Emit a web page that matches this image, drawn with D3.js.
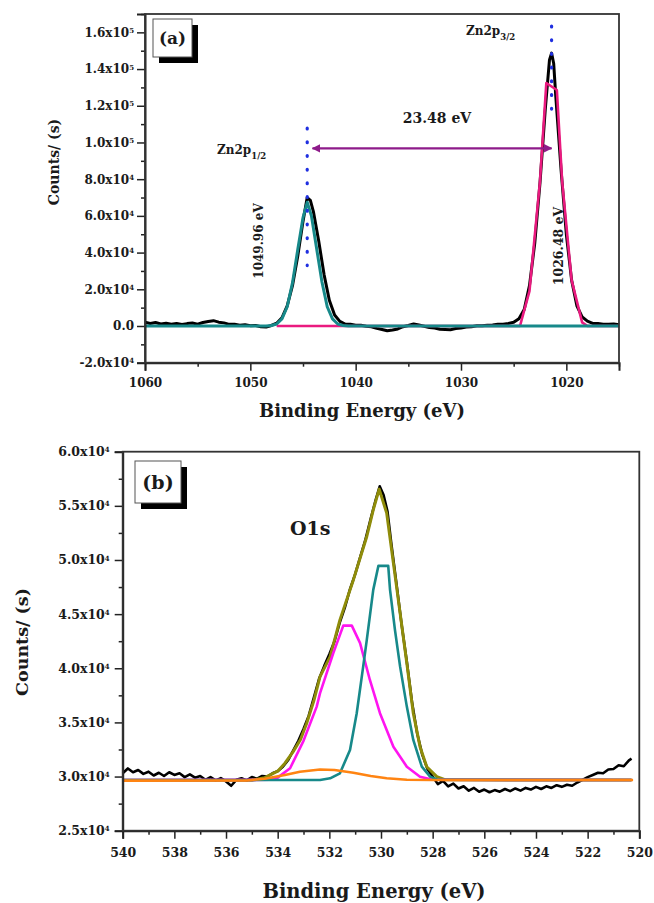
<!DOCTYPE html>
<html>
<head>
<meta charset="utf-8">
<script src="https://cdn.jsdelivr.net/npm/d3@7"></script>
<style>
  body { margin: 0; background: #fff; }
  svg text { font-family: "DejaVu Serif", serif; font-weight: bold; fill: #1a1a1a; }
</style>
</head>
<body>
<div id="chart"></div>
<script>
// ---------- panel (a) : Zn 2p ----------
// [binding energy (eV), counts/s]
const znMeasured = [
  [1060, 2000], [1059.5, 1400], [1059, 1900], [1058.5, 1100], [1058, 1500], [1057.5, 900],
  [1057, 1400], [1056.5, 800], [1056, 1300], [1055.5, 1600], [1055, 1000], [1054.5, 1900],
  [1054, 2500], [1053.5, 2900], [1053, 2100], [1052.5, 1700], [1052, 900], [1051.5, 900],
  [1051, 400], [1050.5, 700], [1050, 200], [1049.5, 300], [1049, -400], [1048.5, -600],
  [1048, 300], [1047.5, 1500], [1047, 4500], [1046.5, 11000], [1046, 22000], [1045.5, 38000],
  [1045, 57000], [1044.6, 70000], [1044.3, 68500], [1044, 62000], [1043.5, 46000], [1043, 28000],
  [1042.5, 14000], [1042, 6000], [1041.5, 2500], [1041, 1100], [1040.5, 900], [1040, 400],
  [1039.5, 400], [1039, -100], [1038.5, -400], [1038, -1300], [1037.5, -1900], [1037, -2600],
  [1036.5, -2200], [1036, -1600], [1035.5, -400], [1035, 300], [1034.5, 1100], [1034, 500],
  [1033.5, -100], [1033, -800], [1032.5, -1100], [1032, -1800], [1031.5, -1900], [1031, -2000],
  [1030.5, -1400], [1030, -1100], [1029.5, -600], [1029, -400], [1028.5, 100], [1028, 100],
  [1027.5, 400], [1027, 500], [1026.5, 900], [1026, 900], [1025.5, 1400], [1025, 2000],
  [1024.5, 4000], [1024, 9000], [1023.5, 22000], [1023, 45000], [1022.5, 78000], [1022, 118000],
  [1021.6, 145000], [1021.4, 148700], [1021.2, 143000], [1021, 125000], [1020.5, 85000],
  [1020, 50000], [1019.5, 25000], [1019, 11000], [1018.5, 5000], [1018, 2600], [1017.5, 1400],
  [1017, 1300], [1016.5, 900], [1016, 900], [1015.5, 1100], [1015, 700]
];
const znFit32 = [
  [1047.5, 0], [1024.4, 0], [1023.5, 19000], [1022.5, 79000], [1021.9, 132400],
  [1020.9, 128600], [1020.4, 79000], [1019.5, 25000], [1018.5, 2000], [1018.0, 0], [1015, 0]
];
const znFit12 = [
  [1060, 0], [1048.5, 0], [1048.0, 300], [1047.5, 1100], [1047.0, 3900], [1046.5, 10500],
  [1046.0, 23500], [1045.5, 41500], [1045.0, 59000], [1044.6, 67400], [1044.2, 60000],
  [1043.7, 42000], [1043.2, 24000], [1042.7, 10500], [1042.2, 3900], [1041.7, 1100],
  [1041.2, 300], [1040.7, 0], [1015, 0]
];
const znYTicks = [-20000, 0, 20000, 40000, 60000, 80000, 100000, 120000, 140000, 160000];
const znYLabels = [["-2.0x10", "4"], ["0.0", ""], ["2.0x10", "4"], ["4.0x10", "4"], ["6.0x10", "4"],
  ["8.0x10", "4"], ["1.0x10", "5"], ["1.2x10", "5"], ["1.4x10", "5"], ["1.6x10", "5"]];
const znXTicks = [1060, 1050, 1040, 1030, 1020];
// peak markers: energy, from, to
const znMarkers = [[1044.6, 107800, 32900], [1021.4, 163400, 111800]];
const znArrow = [1044.1, 1021.4, 96800];

// ---------- panel (b) : O 1s ----------
const oMeasured = [
  [540.0, 30300], [539.8, 30750], [539.6, 30400], [539.4, 30600], [539.2, 30250], [539.0, 30450],
  [538.8, 30100], [538.6, 30350], [538.4, 30050], [538.2, 30400], [538.0, 30150], [537.8, 30300],
  [537.6, 29950], [537.4, 30200], [537.2, 29900], [537.0, 30050], [536.8, 29700], [536.6, 29950],
  [536.4, 29650], [536.2, 29850], [536.0, 29550], [535.8, 29150], [535.6, 29700], [535.4, 29850],
  [535.2, 29650], [535.0, 29950], [534.8, 29800], [534.6, 30050], [534.4, 30000], [534.2, 30300],
  [534.0, 30500], [533.8, 30900], [533.6, 31500], [533.4, 32400], [533.2, 33300], [533.0, 34400],
  [532.8, 35600], [532.6, 37300], [532.4, 39000], [532.2, 40200], [532.0, 41300], [531.8, 42500],
  [531.6, 44200], [531.4, 45600], [531.2, 47300], [531.0, 48700], [530.8, 50300], [530.6, 51900],
  [530.4, 53800], [530.2, 55600], [530.05, 56800], [529.9, 56000], [529.75, 54500], [529.6, 51500],
  [529.4, 47800], [529.2, 44000], [529.0, 40600], [528.8, 36900], [528.6, 34000], [528.4, 32000],
  [528.2, 30700], [528.0, 30000], [527.8, 29300], [527.6, 29600], [527.4, 29100], [527.2, 29350],
  [527.0, 28900], [526.8, 29100], [526.6, 28700], [526.4, 28950], [526.2, 28600], [526.0, 28800],
  [525.8, 28550], [525.6, 28750], [525.4, 28600], [525.2, 28850], [525.0, 28650], [524.8, 28900],
  [524.6, 28700], [524.4, 28950], [524.2, 28800], [524.0, 29050], [523.8, 28850], [523.6, 29100],
  [523.4, 28950], [523.2, 29200], [523.0, 29050], [522.8, 29250], [522.6, 29150], [522.4, 29450],
  [522.2, 29700], [522.0, 29950], [521.8, 30150], [521.6, 30350], [521.4, 30300], [521.2, 30650],
  [521.0, 30700], [520.8, 31050], [520.6, 30950], [520.4, 31500], [520.3, 31650]
];
const oEnvelope = [
  [540, 29650], [535, 29650], [534.5, 29900], [534, 30500], [533.72, 31230], [533.4, 32300],
  [533.12, 33400], [532.88, 34900], [532.6, 37000], [532.36, 39230], [531.97, 41080],
  [531.59, 44470], [531.07, 48160], [530.55, 52170], [530.3, 54630], [530.07, 56545],
  [529.78, 54330], [529.52, 49710], [529.26, 45090], [529.0, 40470], [528.75, 35850],
  [528.49, 32760], [528.23, 30910], [527.84, 29990], [527.5, 29700], [520.3, 29680]
];
const oFitHigh = [
  [540, 29680], [534.3, 29700], [534.0, 29900], [533.52, 30770], [533.0, 33300], [532.49, 36460],
  [532.36, 37700], [531.85, 41390], [531.46, 43940], [531.13, 43940], [530.81, 42320],
  [530.43, 38920], [530.04, 35850], [529.52, 32760], [529.0, 30910], [528.49, 29990],
  [528.0, 29700], [520.3, 29680]
];
const oFitLow = [
  [540, 29680], [532.36, 29680], [531.97, 29840], [531.59, 30300], [531.2, 32460], [530.94, 35850],
  [530.69, 40150], [530.55, 42620], [530.3, 47240], [530.1, 49460], [529.72, 49460],
  [529.65, 47240], [529.46, 43540], [529.26, 40150], [529.0, 36460], [528.75, 33380],
  [528.42, 30910], [528.1, 29990], [527.8, 29700], [520.3, 29680]
];
const oBackground = [
  [540, 29620], [535.2, 29640], [534.5, 29800], [533.72, 30150], [533.14, 30450], [532.36, 30650],
  [531.8, 30600], [531.07, 30350], [530.4, 30050], [529.78, 29840], [529.0, 29700],
  [528.0, 29680], [520.24, 29680]
];
const oYTicks = [25000, 30000, 35000, 40000, 45000, 50000, 55000, 60000];
const oYLabels = [["2.5x10", "4"], ["3.0x10", "4"], ["3.5x10", "4"], ["4.0x10", "4"],
  ["4.5x10", "4"], ["5.0x10", "4"], ["5.5x10", "4"], ["6.0x10", "4"]];
const oXTicks = [540, 538, 536, 534, 532, 530, 528, 526, 524, 522, 520];

const svg = d3.select("#chart").append("svg")
  .attr("width", 654).attr("height", 903);

// arrow markers
const defs = svg.append("defs");
defs.append("marker").attr("id", "arrowEnd")
  .attr("viewBox", "0 0 10 10").attr("refX", 9).attr("refY", 5)
  .attr("markerWidth", 4).attr("markerHeight", 4).attr("orient", "auto")
  .append("path").attr("d", "M0,0 L10,5 L0,10 Z").attr("fill", "#8e1b8a");
defs.append("marker").attr("id", "arrowStart")
  .attr("viewBox", "0 0 10 10").attr("refX", 1).attr("refY", 5)
  .attr("markerWidth", 4).attr("markerHeight", 4).attr("orient", "auto")
  .append("path").attr("d", "M10,0 L0,5 L10,10 Z").attr("fill", "#8e1b8a");

function drawFrame(g, x, y, opt) {
  let [x0, x1] = x.range();
  let [y0, y1] = y.range();

  // minor ticks
  g.append("g").attr("transform", "translate(0," + y0 + ")")
    .call(d3.axisBottom(x).tickValues(opt.xMinor).tickSize(4).tickFormat(""))
    .call(s => s.select(".domain").remove());
  g.append("g").attr("transform", "translate(" + x0 + ",0)")
    .call(d3.axisLeft(y).tickValues(opt.yMinor).tickSize(4).tickFormat(""))
    .call(s => s.select(".domain").remove());

  // major x axis
  let xAx = g.append("g").attr("transform", "translate(0," + y0 + ")")
    .call(d3.axisBottom(x).tickValues(opt.xTicks).tickSize(8).tickPadding(opt.xPad).tickFormat(d3.format("d")));
  xAx.selectAll("text").style("font-size", opt.tickFont + "px").attr("fill", "#1a1a1a")
    .attr("font-family", "DejaVu Serif");

  // major y axis, labels with superscripts
  let yAx = g.append("g").attr("transform", "translate(" + x0 + ",0)")
    .call(d3.axisLeft(y).tickValues(opt.yTicks).tickSize(8).tickPadding(opt.yPad).tickFormat(""));
  yAx.selectAll(".tick text").each(function (d, i) {
    let t = d3.select(this).style("font-size", opt.tickFont + "px").attr("fill", "#1a1a1a")
      .attr("font-family", "DejaVu Serif");
    let lab = opt.yLabels[i];
    t.append("tspan").text(lab[0]);
    if (lab[1]) {
      t.append("tspan").text(lab[1]).attr("dy", "-0.55em").style("font-size", "7px");
    }
  });

  g.selectAll(".tick line").attr("stroke", "#222").attr("stroke-width", 1.5);
  g.selectAll(".domain").attr("stroke", "#222").attr("stroke-width", 2);

  // box
  g.append("rect").attr("x", x0).attr("y", y1)
    .attr("width", x1 - x0).attr("height", y0 - y1)
    .attr("fill", "none").attr("stroke", "#333").attr("stroke-width", 1.8);
}

function drawTag(g, x, y, w, h, label, size) {
  g.append("rect").attr("x", x + 6).attr("y", y + 6).attr("width", w).attr("height", h).attr("fill", "#000");
  g.append("rect").attr("x", x).attr("y", y).attr("width", w).attr("height", h)
    .attr("fill", "#fff").attr("stroke", "#555").attr("stroke-width", 1);
  g.append("text").attr("x", x + w / 2).attr("y", y + h / 2).attr("dy", "0.36em")
    .attr("text-anchor", "middle").style("font-size", size + "px").text(label);
}

// ================= panel (a) =================
const xA = d3.scaleLinear().domain([1060, 1015]).range([145, 619]);
const yA = d3.scaleLinear().domain([-20000, 170000]).range([362.7, 14]);
const gA = svg.append("g");

const lineA = d3.line().x(d => xA(d[0])).y(d => yA(d[1]));
gA.append("path").datum(znMeasured).attr("d", lineA)
  .attr("fill", "none").attr("stroke", "#000").attr("stroke-width", 3).attr("stroke-linejoin", "round");
gA.append("path").datum(znFit32).attr("d", lineA)
  .attr("fill", "none").attr("stroke", "#ea1a7f").attr("stroke-width", 2.6).attr("stroke-linejoin", "round");
gA.append("path").datum(znFit12).attr("d", lineA)
  .attr("fill", "none").attr("stroke", "#17898a").attr("stroke-width", 3).attr("stroke-linejoin", "round");

drawFrame(gA, xA, yA, {
  xTicks: znXTicks, xMinor: [1055, 1045, 1035, 1025, 1015],
  yTicks: znYTicks, yMinor: d3.range(-10000, 170001, 20000),
  yLabels: znYLabels, tickFont: 12, xPad: 8, yPad: 3
});

// dotted markers
znMarkers.forEach(m => {
  gA.append("line").attr("x1", xA(m[0])).attr("x2", xA(m[0]))
    .attr("y1", yA(m[1])).attr("y2", yA(m[2]))
    .attr("stroke", "#1f2fe0").attr("stroke-width", 3.2)
    .attr("stroke-linecap", "round")
    .attr("stroke-dasharray", "0.8,12.9");
});

gA.append("line")
  .attr("x1", xA(znArrow[0])).attr("x2", xA(znArrow[1]))
  .attr("y1", yA(znArrow[2])).attr("y2", yA(znArrow[2]))
  .attr("stroke", "#8e1b8a").attr("stroke-width", 2.2)
  .attr("marker-start", "url(#arrowStart)").attr("marker-end", "url(#arrowEnd)");

gA.append("text").attr("x", 437).attr("y", 123).attr("text-anchor", "middle")
  .style("font-size", "14px").text("23.48 eV");

let z1 = gA.append("text").attr("x", 217).attr("y", 154).style("font-size", "12px");
z1.append("tspan").text("Zn2p");
z1.append("tspan").text("1/2").attr("dy", 5).style("font-size", "8.5px");
let z2 = gA.append("text").attr("x", 466).attr("y", 35).style("font-size", "12px");
z2.append("tspan").text("Zn2p");
z2.append("tspan").text("3/2").attr("dy", 5).style("font-size", "8.5px");

gA.append("text").attr("transform", "translate(262.5,241) rotate(-90)")
  .attr("text-anchor", "middle").style("font-size", "12px").text("1049.96 eV");
gA.append("text").attr("transform", "translate(562.5,246) rotate(-90)")
  .attr("text-anchor", "middle").style("font-size", "12.5px").text("1026.48 eV");

drawTag(gA, 153, 19, 39, 38, "(a)", 17);

gA.append("text").attr("transform", "translate(59,162) rotate(-90)")
  .attr("text-anchor", "middle").style("font-size", "14px").text("Counts/ (s)");
gA.append("text").attr("x", 362).attr("y", 417)
  .attr("text-anchor", "middle").style("font-size", "18px").text("Binding Energy (eV)");

// ================= panel (b) =================
const xB = d3.scaleLinear().domain([540, 520]).range([122.7, 639.3]);
const yB = d3.scaleLinear().domain([25000, 60000]).range([830.7, 451.7]);
const gB = svg.append("g");

const lineB = d3.line().x(d => xB(d[0])).y(d => yB(d[1]));
gB.append("path").datum(oMeasured).attr("d", lineB)
  .attr("fill", "none").attr("stroke", "#000").attr("stroke-width", 2.6).attr("stroke-linejoin", "round");
gB.append("path").datum(oEnvelope).attr("d", lineB)
  .attr("fill", "none").attr("stroke", "#8f8c0a").attr("stroke-width", 3).attr("stroke-linejoin", "round");
gB.append("path").datum(oFitHigh).attr("d", lineB)
  .attr("fill", "none").attr("stroke", "#ff14f0").attr("stroke-width", 2.6).attr("stroke-linejoin", "round");
gB.append("path").datum(oFitLow).attr("d", lineB)
  .attr("fill", "none").attr("stroke", "#17898a").attr("stroke-width", 2.6).attr("stroke-linejoin", "round");
gB.append("path").datum(oBackground).attr("d", lineB)
  .attr("fill", "none").attr("stroke", "#ff8412").attr("stroke-width", 2.6).attr("stroke-linejoin", "round");

drawFrame(gB, xB, yB, {
  xTicks: oXTicks, xMinor: d3.range(539, 520, -2),
  yTicks: oYTicks, yMinor: d3.range(27500, 60000, 5000),
  yLabels: oYLabels, tickFont: 12.5, xPad: 9, yPad: 5
});

drawTag(gB, 135, 461, 46, 42, "(b)", 19);

gB.append("text").attr("x", 290).attr("y", 535).style("font-size", "19px").text("O1s");

gB.append("text").attr("transform", "translate(28,642) rotate(-90)")
  .attr("text-anchor", "middle").style("font-size", "17.5px").text("Counts/ (s)");
gB.append("text").attr("x", 374).attr("y", 898)
  .attr("text-anchor", "middle").style("font-size", "19.5px").text("Binding Energy (eV)");
</script>
</body>
</html>
